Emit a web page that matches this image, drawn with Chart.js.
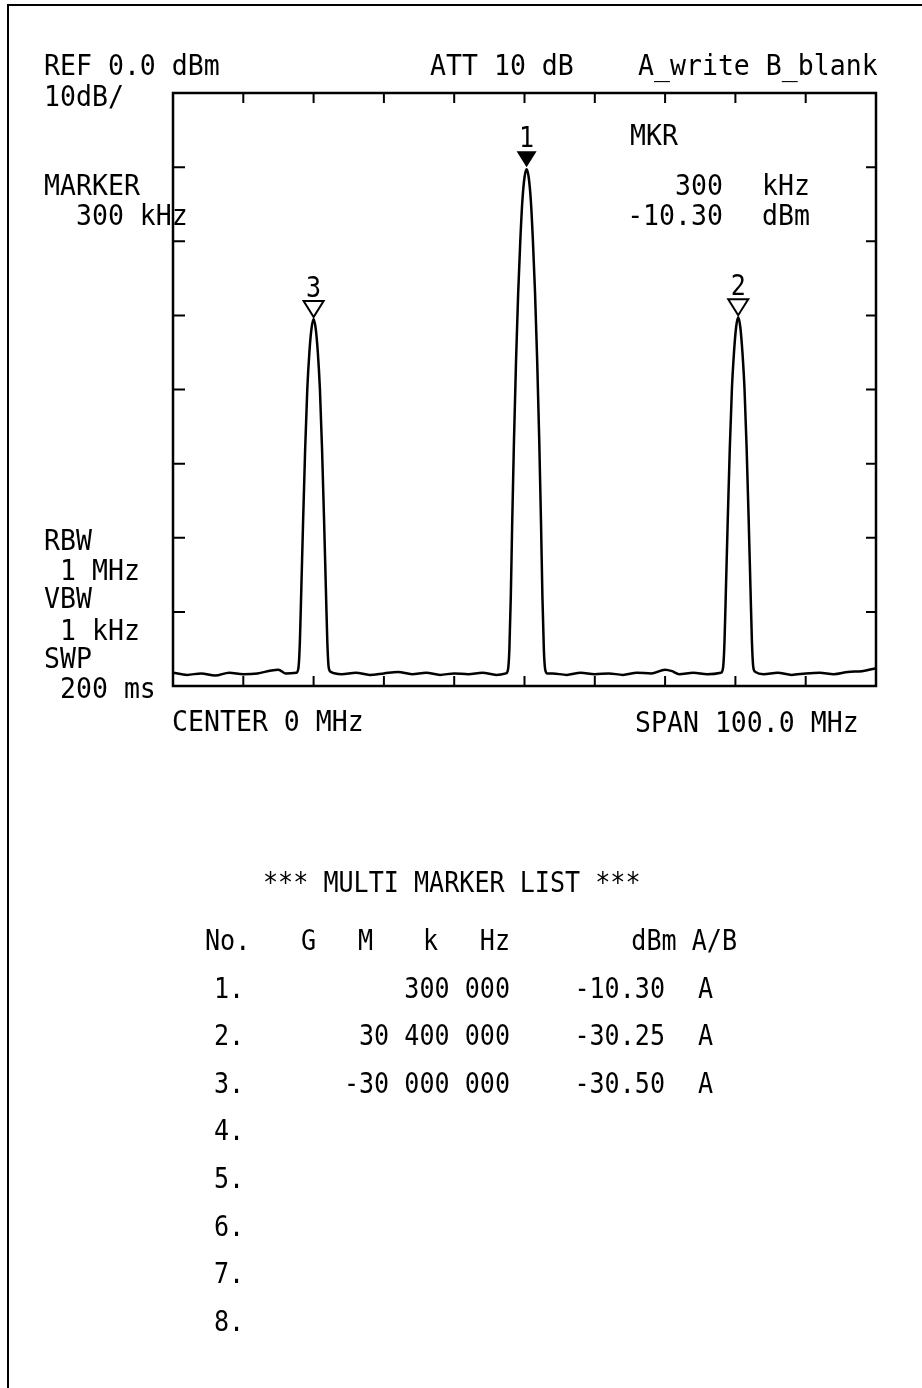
<!DOCTYPE html>
<html>
<head>
<meta charset="utf-8">
<title>Spectrum analyzer - multi marker list</title>
<script src="https://cdn.jsdelivr.net/npm/chart.js@4.4.1/dist/chart.umd.min.js"></script>
<style>
  html, body { margin: 0; padding: 0; background: #fff; }
  #wrap { position: relative; width: 922px; height: 1388px; overflow: hidden; }
  #page { position: absolute; left: 7px; top: 4px; width: 915px; height: 1390px;
          border-top: 2px solid #000; border-left: 2px solid #000; }
  #spec { position: absolute; left: 0; top: 0; }
</style>
</head>
<body>
<div id="wrap">
  <div id="page"></div>
  <canvas id="spec" width="922" height="1388"></canvas>
</div>
<script>
// trace (MHz / dBm)
const traceFreqMHz = [
  -50, -48, -46, -44, -42, -40, -38, -36, -35, -34, -32.45,
  -32.15, -31.95, -31.75, -31.5, -31.2, -30.9, -30.6, -30.3,
  -30.0,
  -29.7, -29.4, -29.1, -28.8, -28.5, -28.25, -28.05, -27.85, -27.55,
  -26, -24, -22, -20, -18, -16, -14, -12, -10, -8, -6, -4, -2.65,
  -2.35, -2.15, -1.95, -1.75, -1.5, -1.2, -0.9, -0.6, -0.3, 0,
  0.3,
  0.6, 0.9, 1.2, 1.5, 1.8, 2.1, 2.35, 2.55, 2.75, 2.95, 3.25,
  4, 6, 8, 10, 12, 14, 16, 18, 20, 21, 22, 24, 26, 27.95,
  28.25, 28.45, 28.65, 28.9, 29.2, 29.5, 29.8, 30.1,
  30.4,
  30.7, 31.0, 31.3, 31.6, 31.9, 32.15, 32.35, 32.55, 32.85,
  34, 36, 38, 40, 42, 44, 46, 48, 50
];
const traceLevelDbm = [
  -78.2, -78.5, -78.3, -78.6, -78.2, -78.4, -78.3, -77.9, -77.8, -78.3, -78.2,
  -77.5, -74, -67, -58, -48, -40, -35, -31.8,
  -30.5,
  -31.8, -35, -40, -48, -58, -67, -74, -77.5, -78.1,
  -78.4, -78.2, -78.5, -78.3, -78.1, -78.4, -78.2, -78.5, -78.3, -78.4, -78.2, -78.5, -78.3,
  -77.8, -75, -68, -58, -47, -36, -27, -20, -14.5, -11.4,
  -10.3,
  -11.4, -14.5, -20, -27, -36, -47, -58, -68, -75, -77.8, -78.3,
  -78.3, -78.5, -78.2, -78.4, -78.3, -78.5, -78.2, -78.3, -77.8, -78.0, -78.4, -78.2, -78.4, -78.2,
  -77.5, -74, -67, -58, -48, -40, -35, -31.6,
  -30.25,
  -31.6, -35, -40, -48, -58, -67, -74, -77.5, -78.1,
  -78.4, -78.2, -78.5, -78.3, -78.2, -78.4, -78.1, -78.0, -77.6
];

const markerNo = [1, 2, 3];
const markerFreqMHz = [0.3, 30.4, -30.0];
const markerLevelDbm = [-10.30, -30.25, -30.50];
const listRows = [1, 2, 3, 4, 5, 6, 7, 8];

const freqTicksMHz = [-50, -40, -30, -20, -10, 0, 10, 20, 30, 40, 50];
const levelTicksDbm = [0, -10, -20, -30, -40, -50, -60, -70, -80];

const plotFont = size => size + 'px "DejaVu Sans Mono", "Liberation Mono", monospace';

function groupDigits(n) {
  const s = Math.abs(n).toString().replace(/\B(?=(\d{3})+(?!\d))/g, ' ');
  return (n < 0 ? '-' : '') + s;
}

// plotter lettering: tall, narrow monospace
function txt(ctx, s, x, y, align, small) {
  const size = small ? 27.5 : 29;
  const sx = small ? 0.912 : 0.915;
  ctx.save();
  ctx.font = plotFont(size);
  ctx.textAlign = align || 'left';
  ctx.textBaseline = 'alphabetic';
  ctx.translate(x, y);
  ctx.scale(sx, 1);
  ctx.fillText(s, 0, 0);
  ctx.restore();
}

const analyzerPlugin = {
  id: 'analyzer',
  beforeDatasetsDraw(chart) {
    const { ctx, chartArea: a, scales } = chart;
    ctx.save();
    ctx.strokeStyle = '#000';
    ctx.lineWidth = 2.5;
    ctx.strokeRect(a.left, a.top, a.right - a.left, a.bottom - a.top);
    ctx.lineWidth = 2;
    ctx.beginPath();
    freqTicksMHz.slice(1, -1).forEach(f => {
      const x = scales.x.getPixelForValue(f);
      ctx.moveTo(x, a.top); ctx.lineTo(x, a.top + 10);
      ctx.moveTo(x, a.bottom); ctx.lineTo(x, a.bottom - 10);
    });
    levelTicksDbm.slice(1, -1).forEach(v => {
      const y = scales.y.getPixelForValue(v);
      ctx.moveTo(a.left, y); ctx.lineTo(a.left + 12, y);
      ctx.moveTo(a.right, y); ctx.lineTo(a.right - 10, y);
    });
    ctx.stroke();
    ctx.restore();
  },
  afterDatasetsDraw(chart) {
    const { ctx, scales } = chart;
    ctx.save();
    ctx.fillStyle = '#000';
    ctx.strokeStyle = '#000';

    // marker symbols
    markerNo.forEach((n, i) => {
      const x = scales.x.getPixelForValue(markerFreqMHz[i]);
      const y = scales.y.getPixelForValue(markerLevelDbm[i]) - 2;
      ctx.beginPath();
      ctx.moveTo(x, y);
      ctx.lineTo(x - 10, y - 16);
      ctx.lineTo(x + 10, y - 16);
      ctx.closePath();
      ctx.lineWidth = 2;
      if (i === 0) ctx.fill(); else ctx.stroke();
      txt(ctx, String(n), x, y - 20, 'center', true);
    });

    // header / settings
    const m1 = markerFreqMHz[0] * 1000;
    txt(ctx, 'REF 0.0 dBm', 44, 75);
    txt(ctx, '10dB/', 44, 106);
    txt(ctx, 'ATT 10 dB', 430, 75);
    txt(ctx, 'A_write B_blank', 638, 75);
    txt(ctx, 'MARKER', 44, 195);
    txt(ctx, '  ' + m1.toFixed(0) + ' kHz', 44, 225);
    txt(ctx, 'MKR', 630, 145);
    txt(ctx, m1.toFixed(0), 723, 195, 'right');
    txt(ctx, 'kHz', 762, 195);
    txt(ctx, markerLevelDbm[0].toFixed(2), 723, 225, 'right');
    txt(ctx, 'dBm', 762, 225);
    txt(ctx, 'RBW', 44, 550);
    txt(ctx, ' 1 MHz', 44, 580);
    txt(ctx, 'VBW', 44, 608);
    txt(ctx, ' 1 kHz', 44, 640);
    txt(ctx, 'SWP', 44, 668);
    txt(ctx, ' 200 ms', 44, 698);
    txt(ctx, 'CENTER 0 MHz', 172, 731);
    txt(ctx, 'SPAN 100.0 MHz', 635, 732);

    // multi marker list
    txt(ctx, '*** MULTI MARKER LIST ***', 263, 892, 'left', true);
    const rowY0 = 950, rowStep = 47.6;
    txt(ctx, 'No.', 205, rowY0, 'left', true);
    txt(ctx, 'G', 301, rowY0, 'left', true);
    txt(ctx, 'M', 358, rowY0, 'left', true);
    txt(ctx, 'k', 423, rowY0, 'left', true);
    txt(ctx, 'Hz', 510, rowY0, 'right', true);
    txt(ctx, 'dBm A/B', 737, rowY0, 'right', true);
    listRows.forEach((r, i) => {
      const y = rowY0 + rowStep * (i + 1);
      txt(ctx, r + '.', 214, y, 'left', true);
      if (i < markerNo.length) {
        txt(ctx, groupDigits(Math.round(markerFreqMHz[i] * 1e6)), 510, y, 'right', true);
        txt(ctx, markerLevelDbm[i].toFixed(2), 665, y, 'right', true);
        txt(ctx, 'A', 698, y, 'left', true);
      }
    });
    ctx.restore();
  }
};

new Chart('spec', {
  type: 'line',
  data: {
    datasets: [{
      label: 'A_write',
      data: traceFreqMHz.map((f, i) => ({ x: f, y: traceLevelDbm[i] })),
      borderColor: '#000',
      borderWidth: 2.5,
      pointRadius: 0,
      fill: false,
      cubicInterpolationMode: 'monotone'
    }]
  },
  options: {
    responsive: false,
    animation: false,
    devicePixelRatio: 1,
    events: [],
    layout: { padding: { left: 173, right: 46, top: 93, bottom: 702 } },
    scales: {
      x: { type: 'linear', min: -50, max: 50, display: false },
      y: { type: 'linear', min: -80, max: 0, display: false }
    },
    plugins: { legend: { display: false }, tooltip: { enabled: false } }
  },
  plugins: [analyzerPlugin]
});
</script>
</body>
</html>
